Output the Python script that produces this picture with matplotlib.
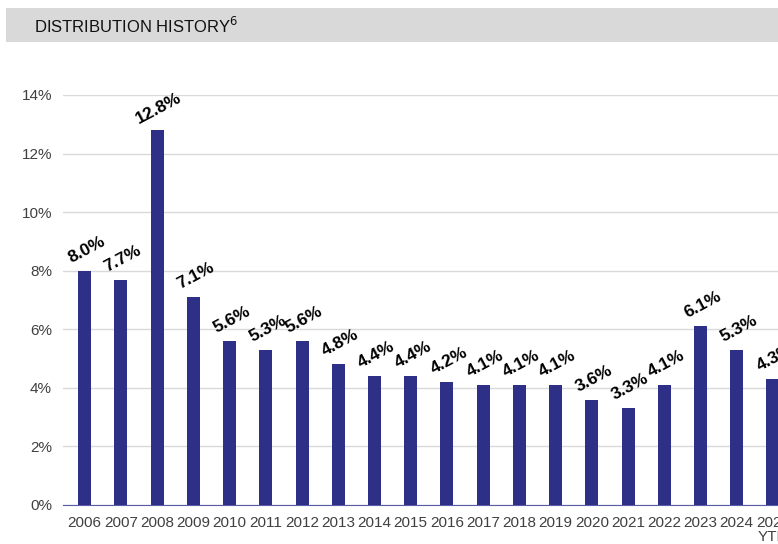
import matplotlib.pyplot as plt
from matplotlib.patches import Rectangle

years = ['2006', '2007', '2008', '2009', '2010', '2011', '2012', '2013', '2014', '2015',
         '2016', '2017', '2018', '2019', '2020', '2021', '2022', '2023', '2024', '2025\nYTD']
rates = [8.0, 7.7, 12.8, 7.1, 5.6, 5.3, 5.6, 4.8, 4.4, 4.4,
         4.2, 4.1, 4.1, 4.1, 3.6, 3.3, 4.1, 6.1, 5.3, 4.3]
yticks = [0, 2, 4, 6, 8, 10, 12, 14]

plt.rcParams['font.family'] = ['Liberation Sans', 'DejaVu Sans']

fig = plt.figure(figsize=(7.78, 5.44), dpi=100)
fig.patches.append(Rectangle((6 / 778, 1 - 42 / 544), 1, 34 / 544, transform=fig.transFigure,
                             facecolor='#d9d9d9', edgecolor='none', zorder=0))
fig.text(34 / 778, 1 - 26 / 544, 'DISTRIBUTION HISTORY$^{6}$', fontsize=12, color='#111111',
         va='center', ha='left')

ax = fig.add_axes([63 / 778, 39 / 544, 1 - 63 / 778, (505 - 95) / 544])
x = list(range(len(years)))
ax.bar(x, rates, width=0.36, color='#2e3088', zorder=3)
for xi, v in zip(x, rates):
    ax.text(xi + 0.15, v + 0.5, f'{v:.1f}%', rotation=28, rotation_mode='anchor',
            ha='center', va='bottom', fontsize=12.5, fontweight='bold', color='black',
            clip_on=False)

ax.set_xlim(-0.6, 19.14)
ax.set_ylim(0, 14)
ax.set_yticks(yticks)
ax.set_yticklabels([f'{t}%' for t in yticks])
ax.set_xticks(x)
ax.set_xticklabels(years, linespacing=1.0)
ax.grid(axis='y', color='#d9d9d9', linewidth=1, zorder=0)
for s in ['top', 'right', 'left']:
    ax.spines[s].set_visible(False)
ax.spines['bottom'].set_color('#5a5ca8')
ax.tick_params(length=0, colors='#404040', labelsize=11)
ax.tick_params(axis='y', pad=8)
ax.tick_params(axis='x', pad=8)

fig.savefig('out.png', dpi=100)
